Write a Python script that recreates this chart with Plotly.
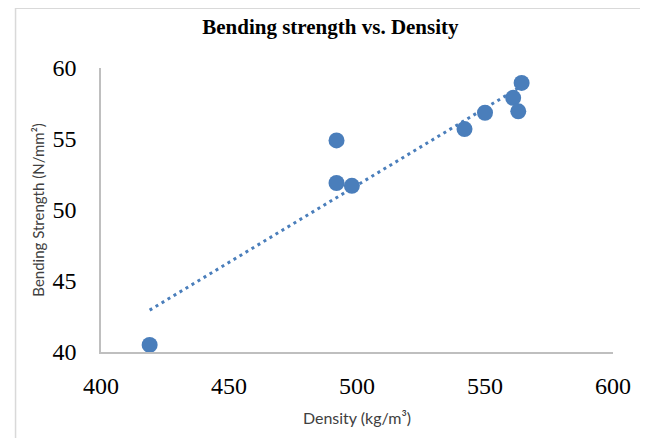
import numpy as np
import plotly.graph_objects as go

# density (kg/m3) and bending strength (N/mm2)
density = [419, 492, 492, 498, 542, 550, 561, 563, 564.3]
strength = [40.5, 54.9, 51.9, 51.7, 55.7, 56.85, 57.9, 56.95, 58.95]

x_ticks = [400, 450, 500, 550, 600]
y_ticks = [40, 45, 50, 55, 60]

blue = "#4A7EBB"

# linear trendline like excel
slope, icpt = np.polyfit(density, strength, 1)
tx = np.array([min(density), max(density)])
ty = slope * tx + icpt

fig = go.Figure()
fig.add_trace(go.Scatter(x=tx, y=ty, mode="lines",
                         line=dict(color=blue, width=3, dash="3px,4px"),
                         hoverinfo="skip"))
fig.add_trace(go.Scatter(x=density, y=strength, mode="markers",
                         marker=dict(color=blue, size=16)))

# page has an 8px body margin, so the figure is a bit smaller
W, H = 640, 430
ml, mr, mt, mb = 92.5, 35.3, 60.3, 85.7
pw, ph = W - ml - mr, H - mt - mb

# outer chart border
fig.add_shape(type="rect", xref="paper", yref="paper",
              x0=(7 - ml) / pw, x1=(639 - ml) / pw,
              y0=-0.4, y1=(H - mb - 0.5) / ph,
              line=dict(color="#d9d9d9", width=1.5), fillcolor="rgba(0,0,0,0)")

fig.update_layout(
    width=W, height=H,
    margin=dict(l=ml, r=mr, t=mt, b=mb),
    paper_bgcolor="white", plot_bgcolor="white",
    showlegend=False,
    title=dict(text="<b>Bending strength vs. Density</b>", x=(322 - ml) / pw, xref="paper",
               xanchor="center", y=1 - 19 / H, yanchor="middle",
               font=dict(family="Liberation Serif", size=21, color="black")),
)
fig.update_xaxes(range=[400, 600], tickvals=x_ticks, showgrid=False, zeroline=False,
                 showline=True, linecolor="#bfbfbf", linewidth=1.5, ticks="",
                 ticklabelstandoff=11,
                 tickfont=dict(family="Liberation Serif", size=24, color="black"),
                 title=dict(text="Density (kg/m³)", standoff=15,
                            font=dict(family="Lato", size=16, color="#404040")))
fig.update_yaxes(range=[40, 60], tickvals=y_ticks, showgrid=False, zeroline=False,
                 showline=True, linecolor="#bfbfbf", linewidth=1.5, ticks="",
                 ticklabelstandoff=18,
                 tickfont=dict(family="Liberation Serif", size=24, color="black"),
                 title=dict(text="Bending Strength (N/mm²)", standoff=4,
                            font=dict(family="Lato", size=15, color="#404040")))

fig.write_html("out.html")
